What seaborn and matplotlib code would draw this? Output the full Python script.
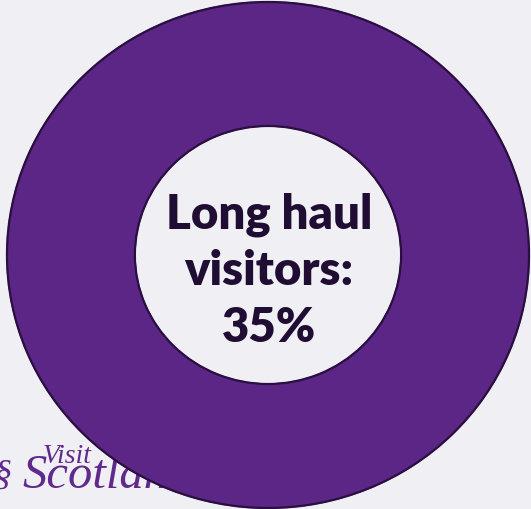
import matplotlib
matplotlib.use("Agg")
import matplotlib.pyplot as plt
import seaborn as sns

# Visitor mix: long haul share vs. everyone else
segments = ["Long haul", "Other visitors"]
shares = [35, 65]
headline = ["Long haul", "visitors:", "35%"]

BG = "#f0eff4"
PURPLE = "#5b2685"
EDGE = "#2a0f40"
INK = "#1f0d33"
BRAND = "#5f2a8c"

sns.set_style("white", {"axes.facecolor": BG, "figure.facecolor": BG})
plt.rcParams["font.family"] = ["Lato", "DejaVu Sans"]

fig = plt.figure(figsize=(5.31, 5.10), dpi=100)
ax = fig.add_axes([0, 0, 1, 1])
ax.set_facecolor(BG)

X0, XU, Y0, YU = -1.0268, 261, 256, 253  # pixel -> data helpers


def px(x, y):
    return X0 + x / XU, (Y0 - y) / YU


# Brand wordmark sits behind the ring
ax.text(*px(22, 488), "Scotland", fontsize=35, family="Liberation Serif",
        style="italic", color=BRAND, ha="left", va="baseline", zorder=0)
ax.text(*px(43, 463), "Visit", fontsize=20, family="Liberation Serif",
        style="italic", color=BRAND, ha="left", va="baseline", zorder=0)
ax.text(*px(-6, 484), "§", fontsize=26, family="Liberation Serif",
        style="italic", color=BRAND, ha="left", va="baseline", zorder=0)

ring = dict(width=0.49)
colors = [PURPLE] * len(shares)
wedges, _ = ax.pie(shares, colors=colors, radius=1.0,
                   startangle=90, counterclock=False,
                   wedgeprops=dict(linewidth=1.2, edgecolor=PURPLE, **ring))
for w in wedges:
    w.set_zorder(2)
outline, _ = ax.pie([sum(shares)], radius=1.0, colors=["none"],
                    wedgeprops=dict(linewidth=1.6, edgecolor=EDGE,
                                    facecolor="none", **ring))
for w in outline:
    w.set_zorder(3)

ax.set_aspect("auto")
ax.set_xlim(-1.0268, 1.0077)
ax.set_ylim(-1.0040, 1.0119)
ax.axis("off")

for line, base_px in zip(headline, [228, 285, 342]):
    x, y = px(269, base_px)
    ax.text(x, y, line, ha="center", va="baseline",
            fontsize=34, fontweight="heavy", color=INK, zorder=4)

fig.savefig("out.png", dpi=100, facecolor=BG)
